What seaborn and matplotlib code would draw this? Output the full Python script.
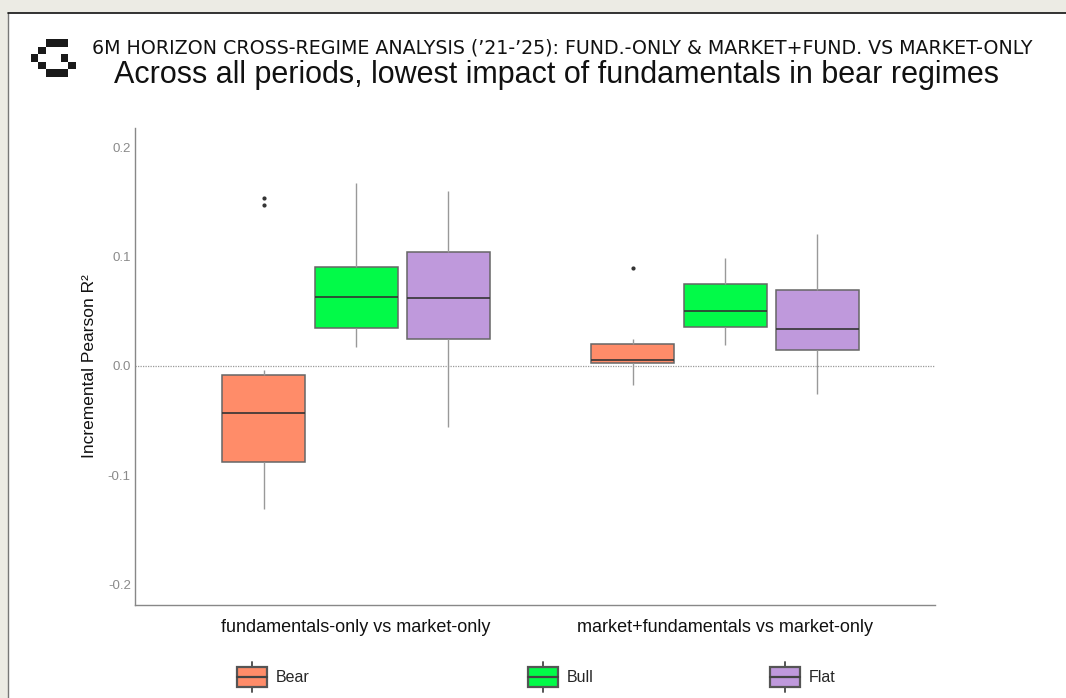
import numpy as np
import pandas as pd
import matplotlib
matplotlib.use("Agg")
import matplotlib.pyplot as plt
import seaborn as sns
from matplotlib.patches import Rectangle, Patch
from matplotlib.lines import Line2D
from matplotlib.legend_handler import HandlerBase

# --- data (one sample per box, sorted) ---
comparisons = ["fundamentals-only vs market-only", "market+fundamentals vs market-only"]
regimes = ["Bear", "Bull", "Flat"]

fund_bear = [-0.131, -0.120, -0.100, -0.088, -0.075, -0.060, -0.043, -0.030, -0.015, -0.008, -0.004, 0.147, 0.154]
fund_bull = [0.017, 0.035, 0.063, 0.091, 0.168]
fund_flat = [-0.056, 0.025, 0.062, 0.104, 0.160]
mkt_bear = [-0.017, 0.000, 0.0024, 0.004, 0.0055, 0.012, 0.020, 0.0244, 0.090]
mkt_bull = [0.019, 0.036, 0.050, 0.075, 0.099]
mkt_flat = [-0.026, 0.0146, 0.0335, 0.0696, 0.121]

colors = {"Bear": "#FF8C69", "Bull": "#02FA48", "Flat": "#BF99DC"}

rows = []
for comp, samples in zip(comparisons, [[fund_bear, fund_bull, fund_flat], [mkt_bear, mkt_bull, mkt_flat]]):
    for reg, vals in zip(regimes, samples):
        for v in vals:
            rows.append({"comparison": comp, "regime": reg, "value": v})
df = pd.DataFrame(rows)

sns.set_theme(style="white")
plt.rcParams["font.family"] = ["Liberation Sans", "DejaVu Sans"]

fig = plt.figure(figsize=(10.66, 6.98), dpi=100, facecolor="#ECEBE4")

# white card with dark top/left edge
fig.patches.append(Rectangle((8 / 1066, -0.1), 1.2, (698 - 13) / 698 + 0.1, transform=fig.transFigure,
                             facecolor="white", edgecolor="none", zorder=-10))
fig.add_artist(Line2D([8 / 1066, 8 / 1066], [0, (698 - 13) / 698], transform=fig.transFigure, color="#777", lw=1))
fig.add_artist(Line2D([8 / 1066, 1], [(698 - 13) / 698] * 2, transform=fig.transFigure, color="#111", lw=1.2))

# pixel logo
cells = [(2, 0), (3, 0), (4, 0), (1, 1), (0, 2), (4, 2), (1, 3), (5, 3), (2, 4), (3, 4), (4, 4)]
u = 7.45
for cx, cy in cells:
    x0 = 31 + cx * u
    y0 = 39.3 + cy * u
    fig.patches.append(Rectangle((x0 / 1066, 1 - (y0 + u) / 698), u / 1066, u / 698,
                                 transform=fig.transFigure, facecolor="#1a1a1a", edgecolor="none"))

fig.text(0.527, 0.931, "6M HORIZON CROSS-REGIME ANALYSIS (\u201921-\u201925): FUND.-ONLY & MARKET+FUND. VS MARKET-ONLY",
         ha="center", va="center", fontsize=13.7, color="#111", family=["DejaVu Sans"])
fig.text(0.522, 0.893, "Across all periods, lowest impact of fundamentals in bear regimes",
         ha="center", va="center", fontsize=22, color="#111")

ax = fig.add_axes([135 / 1066, 93 / 698, 800 / 1066, 477 / 698])
sns.boxplot(data=df, x="comparison", y="value", hue="regime", order=comparisons, hue_order=regimes,
            palette=colors, saturation=1, width=0.75, gap=0.1, showcaps=False, linecolor="#666",
            linewidth=1.1,
            medianprops=dict(color="#333", linewidth=1.2),
            whiskerprops=dict(color="#999", linewidth=1.0),
            flierprops=dict(marker="o", markersize=2, markerfacecolor="#333", markeredgecolor="#333"),
            legend=False, ax=ax)

ax.axhline(0, color="#999", lw=0.9, ls=(0, (1, 1)), zorder=0)
ax.set_xlim(-0.599, 1.569)
ax.set_ylim(-0.219, 0.218)
ax.set_yticks([-0.2, -0.1, 0.0, 0.1, 0.2])
ax.set_yticklabels(["-0.2", "-0.1", "0.0", "0.1", "0.2"])
ax.tick_params(axis="y", labelsize=9.5, labelcolor="#8a8a8a", length=0, pad=3)
ax.tick_params(axis="x", labelsize=13, labelcolor="#111", length=0, pad=10)
ax.set_xlabel("")
ax.set_ylabel("Incremental Pearson R\u00b2", fontsize=12.5, color="#111", labelpad=8)
for side in ["top", "right"]:
    ax.spines[side].set_visible(False)
for side in ["left", "bottom"]:
    ax.spines[side].set_color("#888")
    ax.spines[side].set_linewidth(1.0)


class BoxHandler(HandlerBase):
    # small boxplot glyph for the legend (sizes in points)
    def create_artists(self, legend, orig_handle, xdescent, ydescent, width, height, fontsize, trans):
        x0 = xdescent
        bw = width
        bh = 14.4
        y0 = -ydescent + (height - bh) / 2
        xc = x0 + bw / 2
        stub = 3.6
        box = Rectangle((x0, y0), bw, bh, facecolor=orig_handle.get_facecolor(),
                        edgecolor="#555", lw=1.6, transform=trans)
        med = Line2D([x0, x0 + bw], [y0 + bh / 2] * 2, color="#444", lw=1.6, transform=trans)
        wt = Line2D([xc, xc], [y0 + bh, y0 + bh + stub], color="#555", lw=1.4, transform=trans)
        wb = Line2D([xc, xc], [y0 - stub, y0], color="#555", lw=1.4, transform=trans)
        return [wt, wb, box, med]


legend_x = [237, 528, 770]
for reg, lx in zip(regimes, legend_x):
    fig.legend([Patch(facecolor=colors[reg])], [reg], loc="center left",
               bbox_to_anchor=(lx / 1066, 21 / 698), frameon=False, fontsize=11.5,
               handler_map={Patch: BoxHandler()}, handlelength=1.85, handleheight=1.2,
               handletextpad=0.6, borderpad=0, borderaxespad=0)

fig.savefig("out.png", dpi=100, facecolor=fig.get_facecolor())
